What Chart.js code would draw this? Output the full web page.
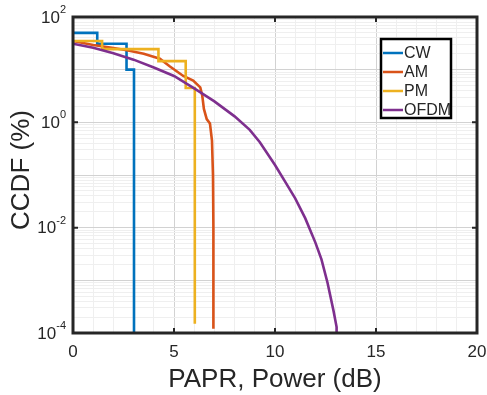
<!DOCTYPE html>
<html>
<head>
<meta charset="utf-8">
<script src="https://cdn.jsdelivr.net/npm/chart.js@4.4.0/dist/chart.umd.min.js"></script>
<style>
    body { margin: 0; background: #fff; }
    #wrap { width: 487px; height: 395px; }
</style>
</head>
<body>
<div id="wrap"><canvas id="ccdfChart" width="487" height="395"></canvas></div>
<script>
// Series (x = PAPR in dB, y = CCDF in %)
const seriesNames = ['CW', 'AM', 'PM', 'OFDM'];
const seriesColors = ['#0072BD', '#D95319', '#EDB120', '#7E2F8E'];

const cwX = [0, 1.2, 1.2, 2.65, 2.65, 3.02, 3.02];
const cwY = [50, 50, 31, 31, 10, 10, 0.0001];

const amX = [0, 1, 2, 2.67, 3.5, 4.3, 4.8, 5.46, 5.95, 6.3, 6.4, 6.48, 6.62, 6.78, 6.88, 6.93, 6.95, 6.95];
const amY = [35, 29.5, 25.7, 23.4, 20, 16.2, 11.5, 7.6, 6.2, 4.6, 3.2, 1.8, 1.15, 0.95, 0.45, 0.1, 0.01, 0.00012];

const pmX = [0, 1.44, 1.44, 4.23, 4.23, 5.58, 5.58, 6.03, 6.03];
const pmY = [35, 35, 24.5, 24.5, 14.5, 14.5, 4.5, 4.5, 0.00015];

const ofdmX = [0, 1, 2, 3, 4, 5, 6, 7, 8, 8.75, 9.25, 10, 10.5, 11, 11.5, 12, 12.3, 12.6, 12.9, 13.05, 13.05];
const ofdmY = [31, 26, 20.5, 15.5, 11, 7.6, 4.4, 2.5, 1.3, 0.72, 0.42, 0.155, 0.075, 0.036, 0.015, 0.0052, 0.0025, 0.0009, 0.00026, 0.00013, 0.0001];

// Axis ticks
const xTickLabels = [0, 5, 10, 15, 20];
const yTickExps = [2, 0, -2, -4];

const textColor = '#262626';
const fontName = '"Liberation Sans", Arial, sans-serif';

function toPoints(xs, ys) {
    return xs.map((x, i) => ({ x: x, y: ys[i] }));
}

// minor log grid values 1..9 x 10^d
const yGridValues = [];
for (let d = -4; d < 2; d++) {
    for (let m = 1; m < 10; m++) {
        yGridValues.push(m * Math.pow(10, d));
    }
}
yGridValues.push(100);

const xGridValues = [];
for (let i = 0; i <= 20; i++) xGridValues.push(i);

// Draws the box, inward ticks, tick labels, axis titles and legend
const matlabAxes = {
    id: 'matlabAxes',
    afterDraw(chart) {
        const ctx = chart.ctx;
        const area = chart.chartArea;
        const xs = chart.scales.x;
        const ys = chart.scales.y;
        ctx.save();

        // tick marks pointing inward
        ctx.strokeStyle = textColor;
        ctx.lineWidth = 2;
        xTickLabels.forEach(v => {
            const px = xs.getPixelForValue(v);
            ctx.beginPath();
            ctx.moveTo(px, area.bottom); ctx.lineTo(px, area.bottom - 5);
            ctx.moveTo(px, area.top); ctx.lineTo(px, area.top + 5);
            ctx.stroke();
        });
        yTickExps.forEach(e => {
            const py = ys.getPixelForValue(Math.pow(10, e));
            ctx.beginPath();
            ctx.moveTo(area.left, py); ctx.lineTo(area.left + 5, py);
            ctx.moveTo(area.right, py); ctx.lineTo(area.right - 5, py);
            ctx.stroke();
        });

        // box
        ctx.lineWidth = 3;
        ctx.strokeRect(area.left, area.top, area.right - area.left, area.bottom - area.top);

        // x tick labels
        ctx.fillStyle = textColor;
        ctx.font = '17px ' + fontName;
        ctx.textAlign = 'center';
        ctx.textBaseline = 'middle';
        xTickLabels.forEach(v => {
            ctx.fillText(String(v), xs.getPixelForValue(v), area.bottom + 19);
        });

        // y tick labels with superscript exponent
        yTickExps.forEach(e => {
            const py = ys.getPixelForValue(Math.pow(10, e));
            const expText = e < 0 ? '-' + Math.abs(e) : String(e);
            ctx.font = '17px ' + fontName;
            const wBase = ctx.measureText('10').width;
            ctx.font = '11px ' + fontName;
            const wExp = ctx.measureText(expText).width;
            const right = area.left - 7;
            ctx.textAlign = 'left';
            ctx.textBaseline = 'middle';
            ctx.font = '17px ' + fontName;
            ctx.fillText('10', right - wExp - wBase, py + 1);
            ctx.font = '11px ' + fontName;
            ctx.fillText(expText, right - wExp, py - 7);
        });

        // axis titles
        ctx.font = '26px ' + fontName;
        ctx.textAlign = 'center';
        ctx.textBaseline = 'middle';
        ctx.fillText('PAPR, Power (dB)', (area.left + area.right) / 2, area.bottom + 47);
        ctx.save();
        ctx.translate(22, (area.top + area.bottom) / 2 - 5);
        ctx.rotate(-Math.PI / 2);
        ctx.fillText('CCDF (%)', 0, 0);
        ctx.restore();

        // legend box
        const lx = 381, ly = 39, lw = 70, lh = 79;
        ctx.fillStyle = '#fff';
        ctx.fillRect(lx, ly, lw, lh);
        ctx.strokeStyle = '#000';
        ctx.lineWidth = 2.5;
        ctx.strokeRect(lx, ly, lw, lh);
        ctx.font = '16px ' + fontName;
        ctx.textAlign = 'left';
        ctx.textBaseline = 'middle';
        seriesNames.forEach((name, i) => {
            const y = ly + 14 + i * 19;
            ctx.strokeStyle = seriesColors[i];
            ctx.lineWidth = 2.5;
            ctx.beginPath();
            ctx.moveTo(lx + 2, y); ctx.lineTo(lx + 22, y);
            ctx.stroke();
            ctx.fillStyle = textColor;
            ctx.fillText(name, lx + 23, y + 1);
        });

        ctx.restore();
    }
};

const seriesX = [cwX, amX, pmX, ofdmX];
const seriesY = [cwY, amY, pmY, ofdmY];

const datasets = seriesNames.map((name, i) => ({
    label: name,
    data: toPoints(seriesX[i], seriesY[i]),
    borderColor: seriesColors[i],
    borderWidth: 2.6,
    pointRadius: 0,
    tension: 0,
    fill: false,
    order: 4 - i
}));

const ctx = document.getElementById('ccdfChart').getContext('2d');
new Chart(ctx, {
    type: 'line',
    data: { datasets: datasets },
    plugins: [matlabAxes],
    options: {
        responsive: false,
        animation: false,
        layout: {
            padding: { left: 73, right: 10, top: 17, bottom: 62 }
        },
        plugins: {
            legend: { display: false },
            tooltip: { enabled: false }
        },
        scales: {
            x: {
                type: 'linear',
                min: 0,
                max: 20,
                afterBuildTicks: scale => {
                    scale.ticks = xGridValues.map(v => ({ value: v }));
                },
                ticks: { display: false },
                border: { display: false },
                grid: {
                    drawTicks: false,
                    color: c => (c.tick && c.tick.value % 5 === 0) ? '#d2d2d2' : '#efefef',
                    lineWidth: 1
                }
            },
            y: {
                type: 'logarithmic',
                min: 0.0001,
                max: 100,
                afterBuildTicks: scale => {
                    scale.ticks = yGridValues.map(v => ({ value: v }));
                },
                ticks: { display: false },
                border: { display: false },
                grid: {
                    drawTicks: false,
                    color: c => {
                        if (!c.tick) return '#efefef';
                        const lg = Math.log10(c.tick.value);
                        return Math.abs(lg - Math.round(lg)) < 1e-6 ? '#d2d2d2' : '#efefef';
                    },
                    lineWidth: 1
                }
            }
        }
    }
});
</script>
</body>
</html>
